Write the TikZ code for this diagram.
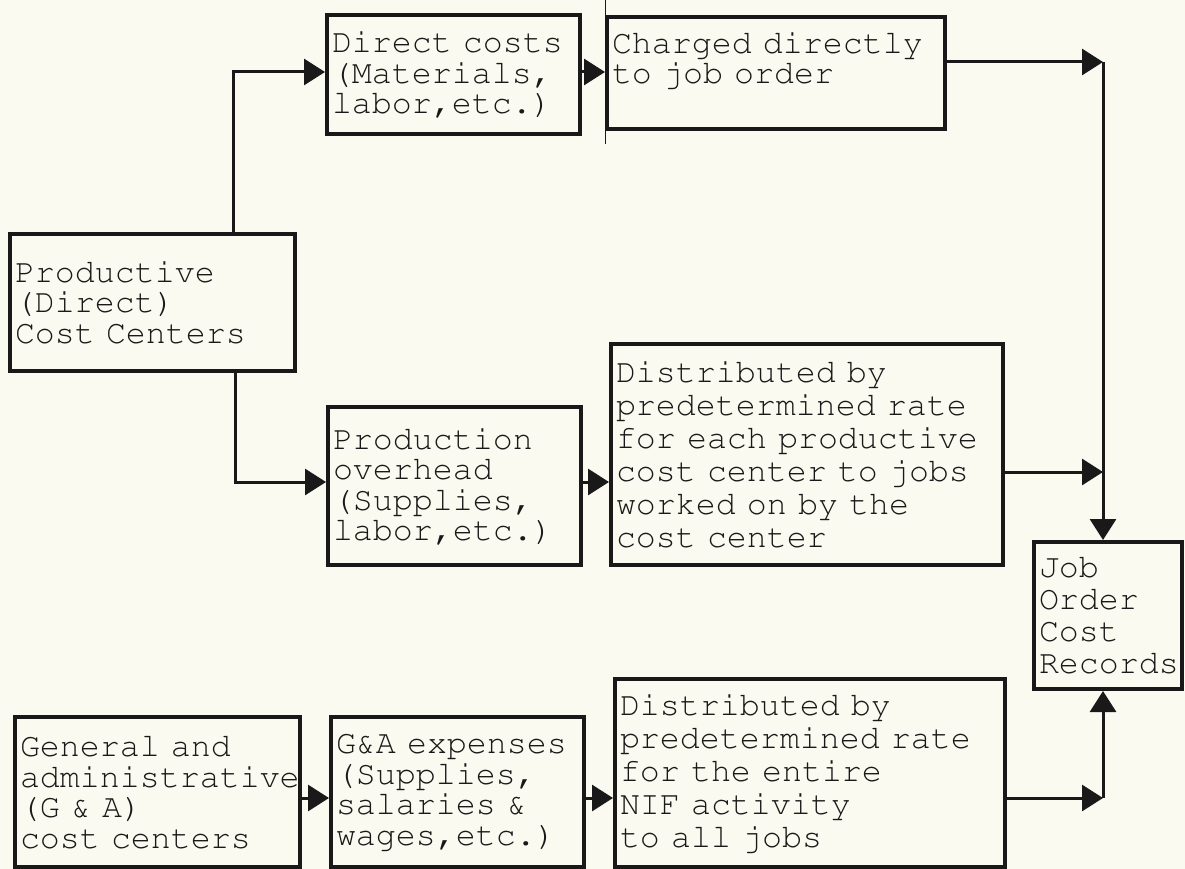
\documentclass[tikz,border=0pt]{standalone}
\usepackage[T1,TU]{fontenc}
% Courier-style typewriter face (URW Nimbus Mono via PSNFSS); argument = line spacing
\newcommand\typeface[1]{\fontencoding{T1}\fontfamily{pcr}\fontseries{m}\fontshape{n}%
  \fontsize{33.3}{#1}\selectfont}
\usetikzlibrary{arrows.meta}
\definecolor{paper}{RGB}{250,250,240}
\definecolor{ink}{RGB}{25,25,25}
\begin{document}
\begin{tikzpicture}[x=1pt,y=-1pt,
  box/.style={draw=ink, line width=4pt, rectangle, anchor=north west,
    align=left, inner xsep=5pt, inner ysep=2pt, text=ink, font=\typeface{30.5}},
  widebox/.style={box, font=\typeface{33}},
  link/.style={draw=ink, line width=3pt},
  tip/.style={link, -{Triangle[length=21pt,width=26pt]}}
]
\fill[paper] (0,0) rectangle (1185,869);
\useasboundingbox (0,0) rectangle (1185,869);

% cost boxes
\node[box, text width=243pt, minimum height=119pt] (direct) at (325,13)
  {Direct costs\\(Materials,\\labor,etc.)};
\node[box, text width=328pt, minimum height=112pt] (charged) at (605,15)
  {Charged directly\\to job order\\\mbox{}};
\node[box, text width=275pt, minimum height=137pt] (prod) at (8,232)
  {Productive\\(Direct)\\Cost Centers};
\node[box, text width=243pt, minimum height=158pt] (production) at (326,405)
  {Production\\overhead\\(Supplies,\\labor,etc.)};
\node[widebox, text width=382pt, minimum height=221pt] (dist1) at (609,342)
  {Distributed by\\predetermined rate\\for each productive\\cost center to jobs\\worked on by the\\cost center};
\node[box, font=\typeface{32}, text width=138pt, minimum height=147pt] (job) at (1032,540)
  {Job\\Order\\Cost\\Records};
\node[box, text width=275pt, minimum height=150pt] (general) at (13,715)
  {General and\\administrative\\(G \& A)\\cost centers};
\node[box, text width=243pt, minimum height=150pt] (ga) at (329,715)
  {G\&A expenses\\(Supplies,\\salaries \&\\wages,etc.)};
\node[widebox, text width=380pt, minimum height=188pt] (dist2) at (613,677)
  {Distributed by\\predetermined rate\\for the entire\\NIF activity\\to all jobs};

% bend and junction points
\coordinate (t1) at (233,72);
\coordinate (t2) at (235,482);
\coordinate (j1) at (1103,62);
\coordinate (j2) at (1103,472);
\coordinate (j3) at (1103,798);

% thin rule along the left side of the charged box
\draw[ink, line width=0.8pt] ([yshift=15pt]charged.north west) -- ([yshift=-13pt]charged.south west);

% connectors
\draw[tip] (t1 |- prod.north) -- (t1) -- (direct.west |- t1);
\draw[tip] (t2 |- prod.south) -- (t2) -- (production.west |- t2);
\draw[tip] (direct.east |- t1) -- (charged.west |- t1);
\draw[tip] (production.east |- t2) -- (dist1.west |- t2);
\draw[tip] (general.east |- j3) -- (ga.west |- j3);
\draw[tip] (ga.east |- j3) -- (dist2.west |- j3);
\draw[tip] (charged.east |- j1) -- (j1);
\draw[tip] (j1) -- (j1 |- job.north);
\draw[tip] (dist1.east |- j2) -- (j2);
\draw[tip] (dist2.east |- j3) -- (j3);
\draw[tip] (j3) -- (j3 |- job.south);
\end{tikzpicture}
\end{document}
